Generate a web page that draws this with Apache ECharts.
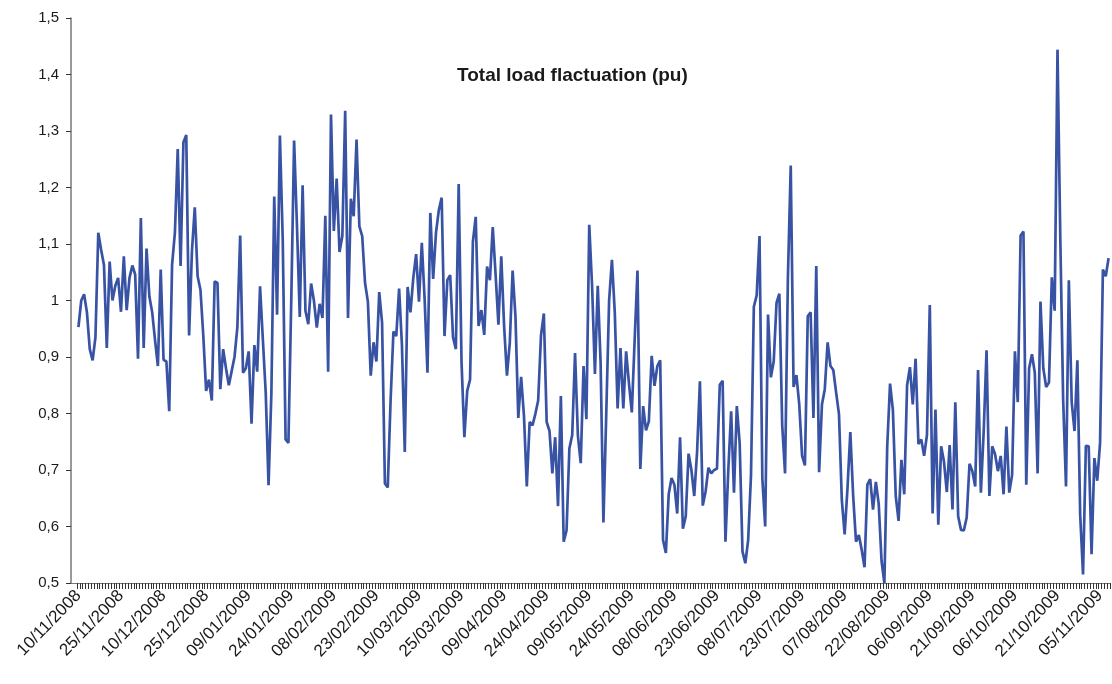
<!DOCTYPE html>
<html>
<head>
<meta charset="utf-8">
<script src="https://cdn.jsdelivr.net/npm/echarts@6/dist/echarts.min.js"></script>
<style>
  html, body { margin: 0; padding: 0; background: #fff; }
  #main { width: 1112px; height: 684px; }
</style>
</head>
<body>
<div id="main"></div>
<script>
// first day of the series, one value per day
var startDate = [2008, 10, 10];
var titleText = 'Total load flactuation (pu)';

var load = [
  0.953, 1.0, 1.011, 0.979, 0.914, 0.894, 0.935, 1.12, 1.09, 1.063,
  0.916, 1.069, 1.0, 1.026, 1.04, 0.98, 1.078, 0.983, 1.04, 1.062,
  1.046, 0.897, 1.146, 0.916, 1.092, 1.007, 0.979, 0.93, 0.884, 1.055,
  0.895, 0.892, 0.804, 1.063, 1.12, 1.268, 1.061, 1.28, 1.293, 0.938,
  1.087, 1.165, 1.043, 1.019, 0.938, 0.84, 0.86, 0.823, 1.034, 1.031,
  0.843, 0.914, 0.88, 0.85, 0.875, 0.9, 0.952, 1.115, 0.872, 0.88,
  0.91, 0.782, 0.921, 0.874, 1.025, 0.93, 0.837, 0.673, 0.837, 1.184,
  0.975, 1.292, 1.107, 0.754, 0.748, 1.0, 1.283, 1.134, 0.971, 1.204,
  0.982, 0.958, 1.03, 0.999, 0.952, 0.994, 0.969, 1.15, 0.874, 1.329,
  1.123, 1.216, 1.086, 1.114, 1.336, 0.969, 1.18, 1.149, 1.285, 1.131,
  1.114, 1.031, 0.998, 0.867, 0.926, 0.892, 1.015, 0.961, 0.676, 0.669,
  0.823, 0.945, 0.937, 1.021, 0.921, 0.732, 1.024, 0.979, 1.04, 1.082,
  0.998, 1.102, 1.002, 0.872, 1.155, 1.038, 1.12, 1.16, 1.182, 0.937,
  1.036, 1.045, 0.935, 0.914, 1.206, 0.891, 0.758, 0.84, 0.86, 1.104,
  1.148, 0.955, 0.983, 0.939, 1.06, 1.036, 1.13, 1.046, 0.957, 1.078,
  0.955, 0.867, 0.925, 1.053, 0.972, 0.792, 0.865, 0.796, 0.671, 0.785,
  0.779, 0.799, 0.823, 0.938, 0.977, 0.785, 0.769, 0.694, 0.758, 0.636,
  0.831, 0.573, 0.593, 0.738, 0.762, 0.907, 0.761, 0.712, 0.884, 0.79,
  1.134, 1.026, 0.87, 1.026, 0.891, 0.607, 0.8, 1.0, 1.072, 0.979,
  0.809, 0.916, 0.809, 0.91, 0.853, 0.802, 0.93, 1.053, 0.702, 0.813,
  0.77, 0.786, 0.902, 0.849, 0.884, 0.894, 0.576, 0.553, 0.657, 0.686,
  0.674, 0.623, 0.758, 0.596, 0.618, 0.729, 0.7, 0.654, 0.732, 0.857,
  0.637, 0.662, 0.704, 0.694, 0.7, 0.702, 0.851, 0.858, 0.573, 0.7,
  0.804, 0.66, 0.813, 0.748, 0.556, 0.535, 0.576, 0.691, 0.989, 1.009,
  1.114, 0.684, 0.6, 0.975, 0.864, 0.892, 0.996, 1.012, 0.779, 0.694,
  1.04, 1.239, 0.847, 0.868, 0.816, 0.725, 0.708, 0.972, 0.979, 0.792,
  1.061, 0.696, 0.816, 0.843, 0.926, 0.884, 0.877, 0.837, 0.799, 0.647,
  0.586, 0.668, 0.767, 0.654, 0.573, 0.585, 0.559, 0.528, 0.674, 0.684,
  0.63, 0.679, 0.64, 0.539, 0.5, 0.742, 0.853, 0.806, 0.654, 0.61,
  0.718, 0.657, 0.85, 0.882, 0.816, 0.897, 0.746, 0.754, 0.725, 0.762,
  0.992, 0.623, 0.807, 0.603, 0.742, 0.715, 0.661, 0.744, 0.63, 0.82,
  0.618, 0.594, 0.593, 0.616, 0.711, 0.698, 0.671, 0.877, 0.66, 0.769,
  0.912, 0.654, 0.742, 0.728, 0.698, 0.725, 0.657, 0.777, 0.66, 0.691,
  0.91, 0.82, 1.115, 1.122, 0.674, 0.88, 0.905, 0.872, 0.694, 0.998,
  0.88, 0.847, 0.855, 1.041, 0.982, 1.444, 1.107, 0.823, 0.671, 1.036,
  0.82, 0.769, 0.894, 0.62, 0.515, 0.743, 0.742, 0.551, 0.721, 0.681,
  0.748, 1.055, 1.043, 1.075
];

function pad(n) { return n < 10 ? '0' + n : '' + n; }
var days = [];
for (var i = 0; i < load.length; i++) {
  var d = new Date(Date.UTC(startDate[0], startDate[1], startDate[2] + i));
  days.push(pad(d.getUTCDate()) + '/' + pad(d.getUTCMonth() + 1) + '/' + d.getUTCFullYear());
}

var chartDom = document.getElementById('main');
var myChart = echarts.init(chartDom);
var option;

option = {
  animation: false,
  title: {
    text: titleText,
    left: 452,
    top: 61,
    textStyle: { fontFamily: 'Liberation Sans', fontSize: 19, fontWeight: 'bold', color: '#1a1a1a' }
  },
  grid: { left: 77, right: 2, top: 18, bottom: 101 },
  // short piece of x axis line between y axis and the plot start
  graphic: [
    { type: 'line', shape: { x1: 71, y1: 583.5, x2: 78, y2: 583.5 }, style: { stroke: '#777', lineWidth: 1 } }
  ],
  xAxis: {
    type: 'category',
    data: days,
    boundaryGap: true,
    axisLine: { lineStyle: { color: '#777', width: 1 } },
    axisTick: { show: true, interval: 0, length: 6, lineStyle: { color: '#333', width: 1 } },
    axisLabel: {
      interval: 14,
      rotate: 46,
      fontFamily: 'Liberation Sans',
      fontSize: 17,
      color: '#1a1a1a',
      margin: 10
    },
    splitLine: { show: false }
  },
  yAxis: {
    type: 'value',
    min: 0.5,
    max: 1.5,
    interval: 0.1,
    offset: 6,
    axisLine: { show: true, lineStyle: { color: '#777', width: 1.5 } },
    axisTick: { show: true, length: 5, lineStyle: { color: '#333' } },
    axisLabel: {
      fontFamily: 'Liberation Sans',
      fontSize: 15,
      color: '#1a1a1a',
      margin: 12,
      formatter: function (v) { return String(Math.round(v * 10) / 10).replace('.', ','); }
    },
    splitLine: { show: false }
  },
  series: [
    {
      name: 'Total load',
      type: 'line',
      data: load,
      showSymbol: false,
      lineStyle: { color: '#3953a4', width: 2.7 },
      itemStyle: { color: '#3953a4' }
    }
  ]
};

option && myChart.setOption(option);
</script>
</body>
</html>
